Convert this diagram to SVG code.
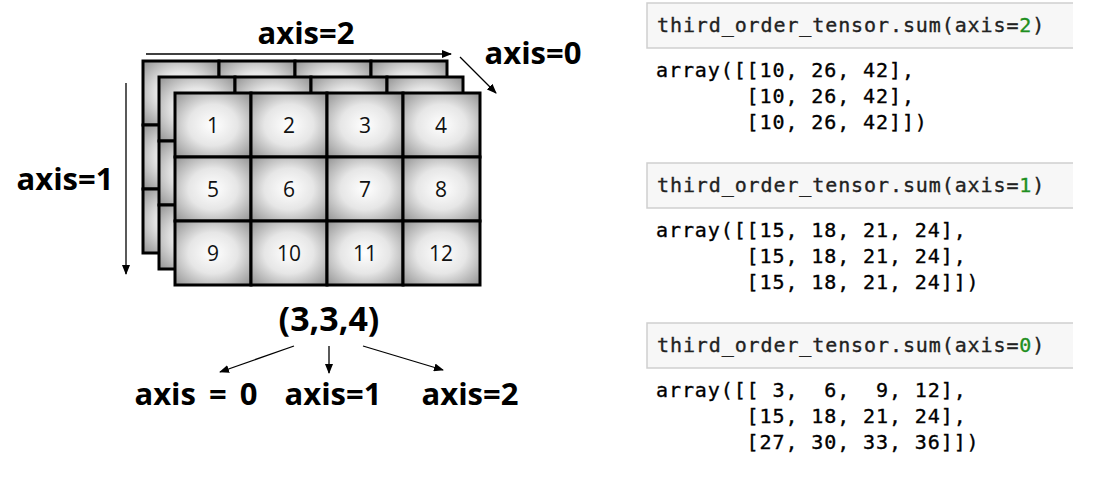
<svg xmlns="http://www.w3.org/2000/svg" width="1104" height="479" viewBox="0 0 1104 479">
<style>
.cell{fill:url(#cg);stroke:#000;stroke-width:3}
.num{font-family:"Open Sans","Noto Sans",sans-serif;font-size:21px;fill:#111;text-anchor:middle}
.lbl{font-family:"Open Sans","Noto Sans",sans-serif;font-size:31px;font-weight:bold;fill:#000}
.arr{stroke:#000;stroke-width:1.3;fill:none;marker-end:url(#ah)}
.code{font-family:"DejaVu Sans Mono","Liberation Mono",monospace;font-size:20px;letter-spacing:0.9px;white-space:pre;stroke-width:0.35}
.in{fill:#222;stroke:#222}
.out{fill:#000;stroke:#000}
.box{fill:#f7f7f7;stroke:none}
.bl{stroke:#cfcfcf;stroke-width:1.5;fill:none}
.g{fill:#1f8f1f;stroke:#1f8f1f}
</style>
<defs>
<radialGradient id="cg" cx="0.5" cy="0.5" r="0.72">
<stop offset="0" stop-color="#ffffff"/>
<stop offset="0.45" stop-color="#e6e6e6"/>
<stop offset="1" stop-color="#8e8e8e"/>
</radialGradient>
<marker id="ah" markerWidth="10" markerHeight="8" refX="9" refY="4" orient="auto" markerUnits="userSpaceOnUse">
<path d="M0,0 L10,4 L0,8 Z" fill="#000"/>
</marker>
</defs>
<rect width="1104" height="479" fill="#fff"/>

<g id="layer-back">
<rect class="cell" x="143" y="61" width="76" height="64"/><rect class="cell" x="219" y="61" width="76" height="64"/><rect class="cell" x="295" y="61" width="76" height="64"/><rect class="cell" x="371" y="61" width="76" height="64"/>
<rect class="cell" x="143" y="125" width="76" height="64"/><rect class="cell" x="219" y="125" width="76" height="64"/><rect class="cell" x="295" y="125" width="76" height="64"/><rect class="cell" x="371" y="125" width="76" height="64"/>
<rect class="cell" x="143" y="189" width="76" height="64"/><rect class="cell" x="219" y="189" width="76" height="64"/><rect class="cell" x="295" y="189" width="76" height="64"/><rect class="cell" x="371" y="189" width="76" height="64"/>
</g>
<g id="layer-middle">
<rect class="cell" x="159" y="77" width="76" height="64"/><rect class="cell" x="235" y="77" width="76" height="64"/><rect class="cell" x="311" y="77" width="76" height="64"/><rect class="cell" x="387" y="77" width="76" height="64"/>
<rect class="cell" x="159" y="141" width="76" height="64"/><rect class="cell" x="235" y="141" width="76" height="64"/><rect class="cell" x="311" y="141" width="76" height="64"/><rect class="cell" x="387" y="141" width="76" height="64"/>
<rect class="cell" x="159" y="205" width="76" height="64"/><rect class="cell" x="235" y="205" width="76" height="64"/><rect class="cell" x="311" y="205" width="76" height="64"/><rect class="cell" x="387" y="205" width="76" height="64"/>
</g>
<g id="layer-front">
<rect class="cell" x="175" y="93" width="76" height="64"/><rect class="cell" x="251" y="93" width="76" height="64"/><rect class="cell" x="327" y="93" width="76" height="64"/><rect class="cell" x="403" y="93" width="77" height="64"/>
<rect class="cell" x="175" y="157" width="76" height="64"/><rect class="cell" x="251" y="157" width="76" height="64"/><rect class="cell" x="327" y="157" width="76" height="64"/><rect class="cell" x="403" y="157" width="77" height="64"/>
<rect class="cell" x="175" y="221" width="76" height="64"/><rect class="cell" x="251" y="221" width="76" height="64"/><rect class="cell" x="327" y="221" width="76" height="64"/><rect class="cell" x="403" y="221" width="77" height="64"/>
<text class="num" x="213" y="133">1</text><text class="num" x="289" y="133">2</text><text class="num" x="365" y="133">3</text><text class="num" x="441" y="133">4</text>
<text class="num" x="213" y="197">5</text><text class="num" x="289" y="197">6</text><text class="num" x="365" y="197">7</text><text class="num" x="441" y="197">8</text>
<text class="num" x="213" y="261">9</text><text class="num" x="289" y="261">10</text><text class="num" x="365" y="261">11</text><text class="num" x="441" y="261">12</text>
</g>

<g id="labels">
<text class="lbl" x="306" y="44" text-anchor="middle">axis=2</text>
<text class="lbl" x="533" y="64" text-anchor="middle">axis=0</text>
<text class="lbl" x="65" y="190" text-anchor="middle">axis=1</text>
<text class="lbl" x="329" y="331" text-anchor="middle" style="font-size:34px">(3,3,4)</text>
<text class="lbl" x="196" y="405" text-anchor="middle" style="white-space:pre;word-spacing:5px">axis = 0</text>
<text class="lbl" x="333" y="405" text-anchor="middle">axis=1</text>
<text class="lbl" x="470" y="405" text-anchor="middle">axis=2</text>
</g>

<g id="connectors">
<line class="arr" x1="146" y1="54" x2="451" y2="54"/>
<line class="arr" x1="460" y1="57" x2="496" y2="93"/>
<line class="arr" x1="126" y1="83" x2="126" y2="274"/>
<line class="arr" x1="294" y1="346" x2="220" y2="372"/>
<line class="arr" x1="329" y1="346" x2="329" y2="373"/>
<line class="arr" x1="363" y1="346" x2="443" y2="370"/>
</g>

<g id="code-axis2">
<rect class="box" x="647" y="3" width="426" height="45"/>
<path class="bl" d="M1073,3 H647 V48 H1073"/>
<text class="code in" x="657" y="32">third_order_tensor.sum(axis=<tspan class="g">2</tspan>)</text>
<text class="code out" x="656" y="77">array([[10, 26, 42],</text>
<text class="code out" x="656" y="103">       [10, 26, 42],</text>
<text class="code out" x="656" y="129">       [10, 26, 42]])</text>
</g>
<g id="code-axis1">
<rect class="box" x="647" y="163" width="426" height="45"/>
<path class="bl" d="M1073,163 H647 V208 H1073"/>
<text class="code in" x="657" y="192">third_order_tensor.sum(axis=<tspan class="g">1</tspan>)</text>
<text class="code out" x="656" y="237">array([[15, 18, 21, 24],</text>
<text class="code out" x="656" y="263">       [15, 18, 21, 24],</text>
<text class="code out" x="656" y="289">       [15, 18, 21, 24]])</text>
</g>
<g id="code-axis0">
<rect class="box" x="647" y="323" width="426" height="45"/>
<path class="bl" d="M1073,323 H647 V368 H1073"/>
<text class="code in" x="657" y="352">third_order_tensor.sum(axis=<tspan class="g">0</tspan>)</text>
<text class="code out" x="656" y="397">array([[ 3,  6,  9, 12],</text>
<text class="code out" x="656" y="423">       [15, 18, 21, 24],</text>
<text class="code out" x="656" y="449">       [27, 30, 33, 36]])</text>
</g>
</svg>
